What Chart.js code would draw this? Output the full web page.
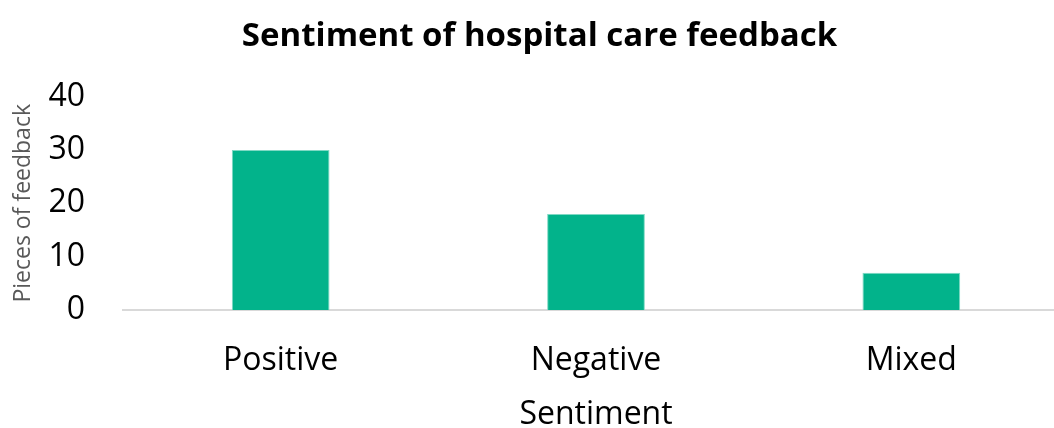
<!DOCTYPE html>
<html lang="en">
<head>
  <meta charset="UTF-8" />
  <title>Sentiment of hospital care feedback</title>
  <script src="https://cdn.jsdelivr.net/npm/chart.js"></script>
  <style>
    html, body { margin: 0; padding: 0; background: #fff; overflow: hidden; }
    .wrap { width: 1054px; height: 428px; overflow: hidden; position: relative; }
    .inner { width: 1069px; height: 428px; }
  </style>
</head>
<body>
  <div class="wrap">
    <div class="inner"><canvas id="sentimentChart" width="1069" height="428"></canvas></div>
  </div>

  <script>
    const categories = ["Positive", "Negative", "Mixed"];
    const feedbackCounts = [30, 18, 7];
    const yTicks = [0, 10, 20, 30, 40];

    const fontFamily = "'Open Sans', sans-serif";

    new Chart(document.getElementById("sentimentChart"), {
      type: "bar",
      data: {
        labels: categories,
        datasets: [{
          label: "Pieces of feedback",
          data: feedbackCounts,
          backgroundColor: "#02b38b",
          borderColor: "#7fd9c4",
          borderWidth: 1,
          categoryPercentage: 1,
          barPercentage: 0.31,
        }],
      },
      options: {
        responsive: false,
        animation: false,
        layout: { padding: { top: 0, left: 10, right: 0, bottom: 0 } },
        plugins: {
          legend: { display: false },
          tooltip: { enabled: false },
          title: {
            display: true,
            text: "Sentiment of hospital care feedback",
            color: "#000",
            font: { family: fontFamily, size: 33, weight: "bold", lineHeight: 1.2 },
            padding: { top: 17, bottom: 40 },
          },
        },
        scales: {
          x: {
            afterFit: (axis) => { axis.height = 118; },
            grid: { display: false, drawTicks: false },
            border: { display: true, color: "#d9d9d9", width: 2 },
            ticks: { color: "#000", font: { family: fontFamily, size: 32, lineHeight: 1.2 }, padding: 32 },
            title: {
              display: true,
              text: "Sentiment",
              color: "#000",
              font: { family: fontFamily, size: 32, lineHeight: 0.85 },
              padding: { top: 0, bottom: 0 },
            },
          },
          y: {
            min: 0,
            max: 40,
            afterBuildTicks: (axis) => { axis.ticks = yTicks.map((v) => ({ value: v })); },
            afterFit: (axis) => { axis.width = 113; },
            grid: { display: false, drawTicks: false },
            border: { display: false },
            ticks: { color: "#000", font: { family: fontFamily, size: 32 }, padding: 38 },
            title: {
              display: true,
              text: "Pieces of feedback",
              color: "#595959",
              font: { family: fontFamily, size: 23 },
              padding: { top: 0, bottom: 0 },
            },
          },
        },
      },
    });
  </script>
</body>
</html>
